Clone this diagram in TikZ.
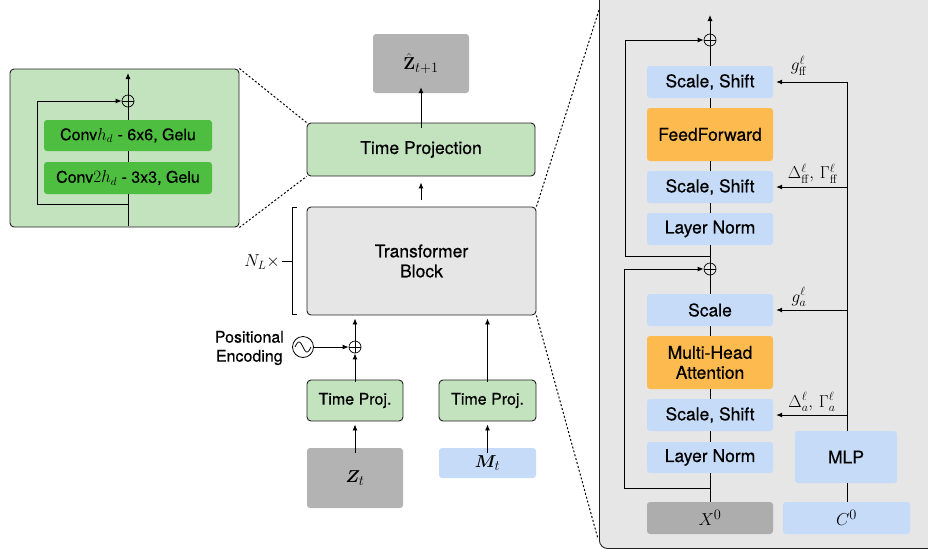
\documentclass[tikz,border=0pt]{standalone}
\usepackage{amsmath,bm}
\usepackage[no-math]{fontspec}
\setmainfont{TeX Gyre Heros}[FakeBold=0.5]
\usetikzlibrary{arrows.meta,backgrounds}
\definecolor{lgreen}{HTML}{C3E3BF}
\definecolor{dgreen}{HTML}{4DBE3F}
\definecolor{lblue}{HTML}{C6DBF8}
\definecolor{orng}{HTML}{FDBB4F}
\definecolor{gbox}{HTML}{B3B3B3}
\definecolor{gpanel}{HTML}{E6E6E6}
\definecolor{xgray}{HTML}{ADADAD}
\definecolor{edge}{HTML}{222222}
\begin{document}
\begin{tikzpicture}[x=1pt,y=-1pt,
  every node/.style={font=\fontsize{17.5}{20}\selectfont, inner sep=0pt, align=center},
  small/.style={font=\fontsize{16}{19}\selectfont},
  bx/.style={rounded corners=3pt, minimum width=#1},
  flat/.style={bx=126pt, fill=lblue, rounded corners=3pt},
  framed/.style={draw=edge, line width=0.9pt, rounded corners=4pt},
  oplus/.style={circle, draw, line width=0.7pt, minimum size=12pt, fill=none,
    path picture={\draw[line width=0.7pt] (path picture bounding box.north) -- (path picture bounding box.south)
      (path picture bounding box.west) -- (path picture bounding box.east);}},
  arr/.style={line width=0.9pt, -{Latex[length=6pt,width=5pt]}},
  ln/.style={line width=0.9pt},
  dots/.style={line width=1pt, dash pattern=on 2pt off 2pt},
  mth/.style={font=\fontsize{19}{21}\selectfont},
  lab/.style={font=\fontsize{18}{20}\selectfont}]
\useasboundingbox (0,0) rectangle (928,552);
\clip (0,0) rectangle (928,552);

% ---------- inset (left) ----------
\node[framed, fill=lgreen, minimum width=229pt, minimum height=158pt] (inset) at (124.5,148) {};
\node[bx=168pt, fill=dgreen, minimum height=31pt, small] (conv1) at (128,135.5) {Conv$h_d$ - 6x6, Gelu};
\node[bx=168pt, fill=dgreen, minimum height=32pt, small] (conv2) at (128,178) {Conv$2h_d$ - 3x3, Gelu};
\node[oplus] (iop) at (128,101) {};
\coordinate (itop) at (128,73);
\coordinate (ibot) at (128,226);
\coordinate (isplit) at (128,204);
\draw[arr] (iop.north) -- (itop);
\draw[ln] (conv1.north) -- (iop.south);
\draw[ln] (conv2.north) -- (conv1.south);
\draw[ln] (ibot) -- (conv2.south);
\draw[arr] (isplit) -| (37,101) -- (iop.west);

% ---------- middle column ----------
\node[framed, fill=lgreen, minimum width=228pt, minimum height=53pt] (tp) at (421,149.5) {Time Projection};
\node[bx=96pt, fill=gbox, minimum height=59pt, mth] (zhat) at (421,63.5) {$\hat{\mathbf{Z}}_{t+1}$};
\node[framed, fill=gpanel, minimum width=229pt, minimum height=108pt] (tb) at (421.5,261) {Transformer\\Block};
\node[framed, fill=lgreen, minimum width=96pt, minimum height=41pt, small] (tpl) at (355,400.5) {Time Proj.};
\node[framed, fill=lgreen, minimum width=97pt, minimum height=41pt, small] (tpr) at (487.5,400.5) {Time Proj.};
\node[bx=96pt, fill=gbox, minimum height=60pt, mth] (zt) at (355,478) {$\bm{Z}_t$};
\node[bx=97pt, fill=lblue, minimum height=30pt, mth] (mt) at (487.5,463) {$\bm{M}_t$};
\node[oplus] (mop) at (355,347) {};
\node[circle, draw, line width=0.8pt, minimum size=21pt] (sine) at (303,347) {};
\draw[line width=0.8pt, shift={(sine.center)}] plot[domain=-8:8, samples=40, smooth] (\x, {5*sin(\x*180/8)});
\node[anchor=east, align=center, small] (pe) at (284,348) {Positional\\Encoding};
\node[anchor=east, lab] (nl) at (280,262) {$N_L\times$};

\draw[arr] ([yshift=-5pt]tp.north) -- ([yshift=6pt]zhat.south);
\draw[arr] ([yshift=-24pt]tp.south) -- ([yshift=-6pt]tp.south);
\draw[arr] ([yshift=-2pt]mop.north) -- ([yshift=-3pt]tb.south -| mop);
\draw[arr] ([yshift=-2pt]tpl.north) -- (mop.south);
\draw[arr] (sine.east) -- (mop.west);
\draw[arr] ([yshift=-2pt]tpr.north) -- ([yshift=-3pt]tb.south -| tpr);
\draw[arr] ([yshift=-5pt]zt.north) -- ([yshift=-3pt]tpl.south);
\draw[arr] ([yshift=-5pt]mt.north) -- ([yshift=-3pt]tpr.south);
% bracket
\draw[line width=0.9pt] (297,207) -- (292,207) -- (292,314) -- (297,314);
\draw[line width=0.9pt] (292,261) -- (282,261);

% ---------- right panel ----------
\node[framed, fill=gpanel, rounded corners=8pt, minimum width=340pt, minimum height=556pt, anchor=north west] (panel) at (599,-8) {};
\coordinate (pnw) at (599,10);
\coordinate (psw) at (598,539);

\node[flat, minimum height=32pt] (ss1) at (710,82) {Scale, Shift};
\node[flat, fill=orng, minimum height=53pt] (ff) at (710,134.5) {FeedForward};
\node[flat, minimum height=32pt] (ss2) at (710,187) {Scale, Shift};
\node[flat, minimum height=32pt] (ln1) at (710,229) {Layer Norm};
\node[oplus] (op1) at (710,40) {};
\node[oplus] (op2) at (710,269) {};
\node[flat, minimum height=32pt] (sc) at (710,310) {Scale};
\node[flat, fill=orng, minimum height=53pt] (mha) at (710,362.5) {Multi-Head\\Attention};
\node[flat, minimum height=32pt] (ss3) at (710,415) {Scale, Shift};
\node[flat, minimum height=31pt] (ln2) at (710,457.5) {Layer Norm};
\node[flat, fill=xgray, minimum height=32pt, mth] (x0) at (710,518) {$X^0$};
\node[bx=102pt, fill=lblue, minimum height=52pt] (mlp) at (846,457) {MLP};
\node[bx=127pt, fill=lblue, minimum height=32pt, mth] (c0) at (846.5,518) {$C^0$};

\coordinate (rtop) at (710,15);
\coordinate (s1) at (710,256);
\coordinate (s2) at (710,488);
\coordinate (bus) at (847,82);
\draw[arr] (op1.north) -- (rtop);
\draw[ln] (ss1.north) -- (op1.south);
\draw[ln] (ff.north) -- (ss1.south);
\draw[ln] (ss2.north) -- (ff.south);
\draw[ln] (ln1.north) -- (ss2.south);
\draw[ln] (op2.north) -- (ln1.south);
\draw[ln] (sc.north) -- (op2.south);
\draw[ln] (mha.north) -- (sc.south);
\draw[ln] (ss3.north) -- (mha.south);
\draw[ln] (ln2.north) -- (ss3.south);
\draw[ln] (x0.north) -- (ln2.south);
\draw[arr] (s1) -| (625,40) -- (op1.west);
\draw[arr] (s2) -| (624,269) -- (op2.west);

\draw[ln] (mlp.north -| bus) -- (bus);
\draw[ln] (c0.north -| bus) -- (mlp.south -| bus);
\draw[arr] (bus) -- ([xshift=3pt]ss1.east);
\draw[arr] (bus |- ss2.east) -- ([xshift=3pt]ss2.east);
\draw[arr] (bus |- sc.east) -- ([xshift=3pt]sc.east);
\draw[arr] (bus |- ss3.east) -- ([xshift=3pt]ss3.east);
\node[lab] (l1) at (799,66) {$g^{\ell}_{\mathrm{ff}}$};
\node[lab] (l2) at (813,174) {$\Delta^{\ell}_{\mathrm{ff}},\,\Gamma^{\ell}_{\mathrm{ff}}$};
\node[lab] (l3) at (799,297) {$g^{\ell}_{a}$};
\node[lab] (l4) at (812,402) {$\Delta^{\ell}_{a},\,\Gamma^{\ell}_{a}$};

% ---------- dotted zoom lines ----------
\draw[dots] (inset.north east) -- (tp.north west);
\draw[dots] (inset.south east) -- (tp.south west);
\draw[dots] (tb.north east) -- (pnw);
\draw[dots] (tb.south east) -- (psw);
\end{tikzpicture}
\end{document}
